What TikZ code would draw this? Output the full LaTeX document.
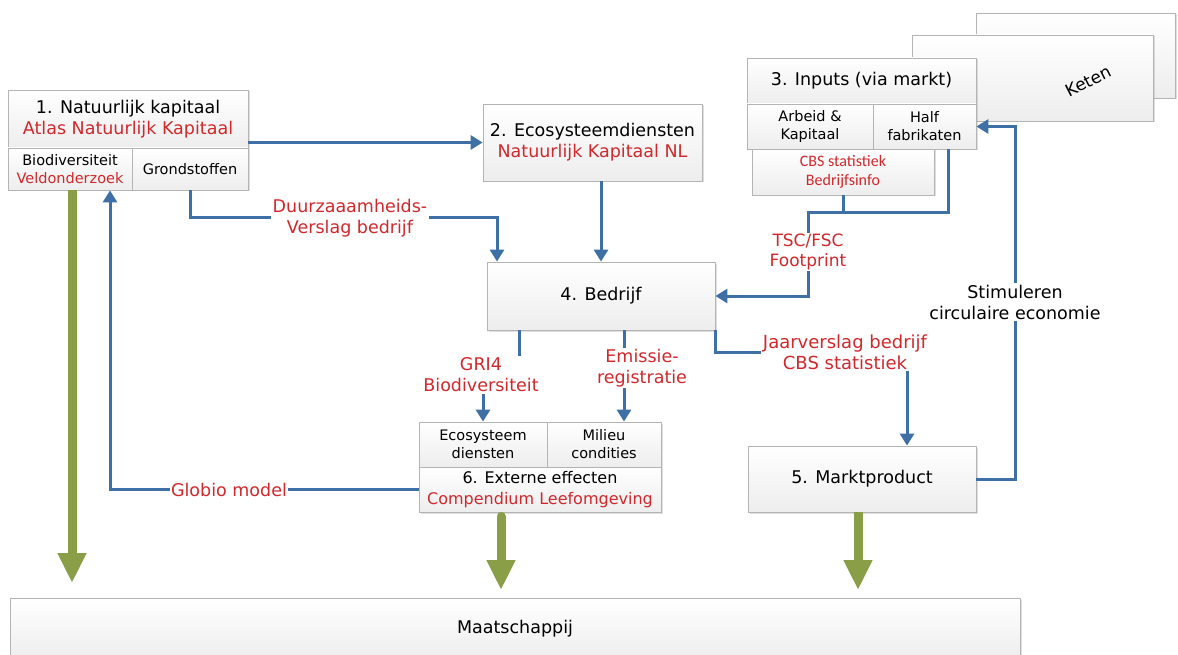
\documentclass[tikz,border=0pt]{standalone}
\usepackage{fontspec}
\setmainfont{DejaVu Sans}
\newfontfamily\carl{Carlito}
\usetikzlibrary{arrows.meta,shadows}
\definecolor{bl}{RGB}{62,112,166}
\definecolor{rd}{RGB}{208,40,45}
\definecolor{gr}{RGB}{138,158,72}
\definecolor{bx}{RGB}{180,180,180}
\begin{document}
\begin{tikzpicture}[x=1pt,y=-1pt,
  box/.style={draw=bx, line width=0.8pt, top color=white, bottom color=black!7,
    drop shadow={opacity=0.25,shadow xshift=1.5pt,shadow yshift=-1.5pt},
    inner sep=0pt, align=center, font=\fontsize{17.5}{21}\selectfont},
  cell/.style={box, font=\fontsize{14.5}{18}\selectfont},
  lab/.style={fill=white, inner sep=1.5pt, text=rd, align=center, font=\fontsize{17.5}{21}\selectfont},
  arr/.style={draw=bl, line width=3pt, -{Triangle[length=12pt,width=14pt]}},
  bline/.style={draw=bl, line width=3pt},
  garr/.style={draw=gr, line width=9pt, -{Triangle[length=30pt,width=27pt]}}
]
\useasboundingbox (0,0) rectangle (1178,655);
\fill[white] (0,0) rectangle (1178,655);
\clip (0,0) rectangle (1178,655);

% Keten stack
\node[box, minimum width=199pt, minimum height=85pt] (kb) at (1075.5,55.5) {};
\node[box, minimum width=241pt, minimum height=86pt] (kf) at (1032.5,78) {};
\node[rotate=27, font=\fontsize{17}{20}\selectfont] (kt) at (1088,81) {Keten};

% Box 3
\node[box, minimum width=182pt, minimum height=46pt, font=\carl\fontsize{16}{19}\selectfont, text=rd] (cbs) at (843,172) {CBS statistiek\\Bedrijfsinfo};
\node[box, minimum width=229pt, minimum height=46pt] (b3) at (861.5,81) {3. Inputs (via markt)};
\node[cell, minimum width=126pt, minimum height=45pt] (b3a) at (810,126.5) {Arbeid \&\\Kapitaal};
\node[cell, minimum width=103pt, minimum height=45pt] (b3h) at (924.5,126.5) {Half\\fabrikaten};

% Box 1
\node[box, minimum width=240pt, minimum height=58pt] (b1) at (128,119) {1. Natuurlijk kapitaal\\\textcolor{rd}{Atlas Natuurlijk Kapitaal}};
\node[cell, minimum width=124pt, minimum height=42pt] (b1b) at (70,169) {Biodiversiteit\\\textcolor{rd}{Veldonderzoek}};
\node[cell, minimum width=116pt, minimum height=42pt] (b1g) at (190,169) {Grondstoffen};

% Box 2
\node[box, minimum width=219pt, minimum height=77pt] (b2) at (592.5,142.5) {2. Ecosysteemdiensten\\\textcolor{rd}{Natuurlijk Kapitaal NL}};

% Box 4
\node[box, minimum width=228pt, minimum height=68pt] (b4) at (601,296) {4. Bedrijf};

% Box 5
\node[box, minimum width=228pt, minimum height=66pt] (b5) at (862,479) {5. Marktproduct};

% Box 6
\node[cell, minimum width=128pt, minimum height=45pt] (b6e) at (483,444.5) {Ecosysteem\\diensten};
\node[cell, minimum width=114pt, minimum height=45pt] (b6m) at (604,444.5) {Milieu\\condities};
\node[box, minimum width=242pt, minimum height=45pt, font=\fontsize{16}{20.5}\selectfont] (b6) at (540,489.5) {6. Externe effecten\\\textcolor{rd}{Compendium Leefomgeving}};

% Maatschappij
\node[box, minimum width=1010pt, minimum height=62pt] (maat) at (515,629) {Maatschappij};

% Blue connectors
\draw[arr] (b1.east |- b2.west) -- (b2.west);
\draw[arr] (b1g.south) |- (497,218) -- (497,0 |- b4.north);
\draw[arr] (b4.north |- b2.south) -- (b4.north);
\draw[bline] (cbs.south) -- (cbs.south |- 0,213);
\draw[arr] (948,0 |- b3h.south) |- (808,213) -- (808,0 |- b4.east) -- (b4.east);
\draw[arr] (b4.south east) |- (907,352) -- (907,0 |- b5.north);
\draw[arr] (519,0 |- b4.south) |- (b6e.north |- 0,375) -- (b6e.north);
\draw[arr] (624,0 |- b4.south) -- (624,0 |- b6m.north);
\draw[arr] (b6.west) -| (110,0 |- b1b.south);
\draw[arr] (b5.east) -| (1015,0 |- b3h.east) -- (b3h.east);

% Green arrows
\draw[garr] (b1b.south -| 72,0) -- (72,583);
\draw[garr, line cap=round] (501,0 |- b6.south) ++(0,4) -- (501,590);
\draw[garr] (858,0 |- b5.south) -- (858,590);

% Labels
\node[lab] (lD) at (350,218) {Duurzaaamheids-\\Verslag bedrijf};
\node[lab, font=\fontsize{17}{19.5}\selectfont] (lT) at (808,252) {TSC/FSC\\Footprint};
\node[lab, font=\fontsize{18}{21}\selectfont] (lJ) at (845,352.5) {Jaarverslag bedrijf\\CBS statistiek};
\node[lab] (lG) at (481,375) {GRI4\\Biodiversiteit};
\node[lab] (lE) at (642,368) {Emissie-\\registratie};
\node[lab, text=black] (lS) at (1015,302) {Stimuleren\\circulaire economie};
\node[lab] (lGl) at (229,490) {Globio model};
\end{tikzpicture}
\end{document}
